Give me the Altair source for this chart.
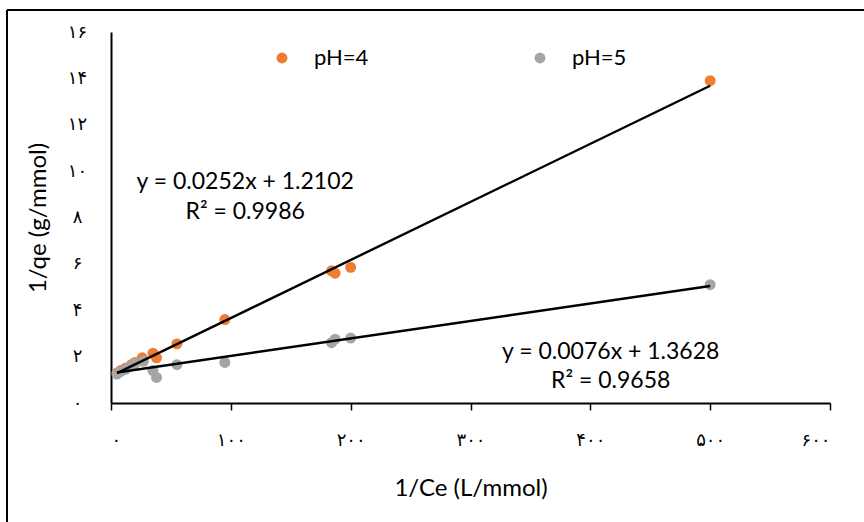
import altair as alt
import pandas as pd

# ---- data ----
ph4_x = [5, 8, 12, 17, 20, 26, 35, 38, 55, 95, 184, 187, 200, 500]
ph4_y = [1.3, 1.4, 1.5, 1.65, 1.75, 1.95, 2.15, 1.95, 2.55, 3.6, 5.7, 5.6, 5.85, 13.9]
ph5_x = [5, 8, 12, 17, 20, 27, 35, 38, 55, 95, 184, 187, 200, 500]
ph5_y = [1.25, 1.35, 1.45, 1.6, 1.7, 1.8, 1.4, 1.1, 1.65, 1.75, 2.6, 2.75, 2.8, 5.1]
series_names = ["pH=4", "pH=5"]
series_colors = ["#ED7D31", "#A5A5A5"]

x_ticks = [0, 100, 200, 300, 400, 500, 600]
x_tick_labels = ["۰", "۱۰۰", "۲۰۰", "۳۰۰", "۴۰۰", "۵۰۰", "۶۰۰"]
y_ticks = [0, 2, 4, 6, 8, 10, 12, 14, 16]
y_tick_labels = ["۰", "۲", "۴", "۶", "۸", "۱۰", "۱۲", "۱۴", "۱۶"]

eq_text = ["y = 0.0252x + 1.2102", "R² = 0.9986", "y = 0.0076x + 1.3628", "R² = 0.9658"]
eq_x = [112, 112, 417, 417]
eq_y = [9.55, 8.25, 2.2, 0.95]

x_title = "1/Ce (L/mmol)"
y_title = "1/qe (g/mmol)"

df = pd.DataFrame({
    "x": ph4_x + ph5_x,
    "y": ph4_y + ph5_y,
    "series": [series_names[0]] * len(ph4_x) + [series_names[1]] * len(ph5_x),
})
ann = pd.DataFrame({"t": eq_text, "x": eq_x, "y": eq_y})


def label_expr(vals, labels):
    parts = [f"datum.value == {v} ? '{l}'" for v, l in zip(vals, labels)]
    return " : ".join(parts) + " : ''"


FONT = "Lato"
W, H = 719, 371

xscale = alt.Scale(domain=[0, 600], nice=False, zero=True)
yscale = alt.Scale(domain=[0, 16], nice=False, zero=True)

xaxis = alt.Axis(values=x_ticks, labelExpr=label_expr(x_ticks, x_tick_labels), grid=False,
                 domainColor="black", domainWidth=2, tickColor="black", tickWidth=1.5, tickSize=7,
                 labelFont="DejaVu Sans", labelFontSize=18, labelColor="black", labelPadding=21,
                 title=x_title, titleFont=FONT, titleFontSize=24, titleFontWeight="normal",
                 titleColor="black", titlePadding=27)
yaxis = alt.Axis(values=y_ticks, labelExpr=label_expr(y_ticks, y_tick_labels), grid=False,
                 domainColor="black", domainWidth=2, ticks=False,
                 labelFont="DejaVu Sans", labelFontSize=18, labelColor="black", labelPadding=34,
                 labelAlign="center", labelBaseline="middle",
                 title=y_title, titleFont=FONT, titleFontSize=24, titleFontWeight="normal",
                 titleColor="black", titlePadding=17)

color = alt.Color("series:N",
                  scale=alt.Scale(domain=series_names, range=series_colors),
                  legend=alt.Legend(title=None, orient="none", legendX=160, legendY=15,
                                    direction="horizontal", symbolType="circle", symbolSize=120,
                                    symbolStrokeWidth=0, labelFont=FONT, labelFontSize=22,
                                    labelColor="black", labelOffset=21, columnPadding=160,
                                    padding=0))

base = alt.Chart(df)

points = base.mark_point(filled=True, size=120, opacity=1, strokeWidth=0).encode(
    x=alt.X("x:Q", scale=xscale, axis=xaxis),
    y=alt.Y("y:Q", scale=yscale, axis=yaxis),
    color=color,
    order=alt.Order("series:N"),
)

lines = base.transform_regression("x", "y", groupby=["series"]).mark_line(
    color="black", strokeWidth=2.4
).encode(x=alt.X("x:Q", scale=xscale), y=alt.Y("y:Q", scale=yscale), detail="series:N")

texts = alt.Chart(ann).mark_text(font=FONT, fontSize=23, color="black", align="center",
                                 baseline="middle").encode(
    x=alt.X("x:Q", scale=xscale), y=alt.Y("y:Q", scale=yscale), text="t:N")

one = pd.DataFrame({"a": [0]})
frame_top = alt.Chart(one).mark_rule(color="black", strokeWidth=2).encode(
    x=alt.value(-104), x2=alt.value(800), y=alt.value(-22))
frame_left = alt.Chart(one).mark_rule(color="black", strokeWidth=2).encode(
    x=alt.value(-104), y=alt.value(-22), y2=alt.value(520))

chart = alt.layer(points, lines, texts, frame_top, frame_left).properties(
    width=W, height=H,
    autosize=alt.AutoSizeParams(type="none"),
    padding={"left": 111, "top": 32, "right": 34, "bottom": 119},
    background="white",
).configure_view(stroke=None)

chart.save("out.html", embed_options={"renderer": "svg", "actions": False})
